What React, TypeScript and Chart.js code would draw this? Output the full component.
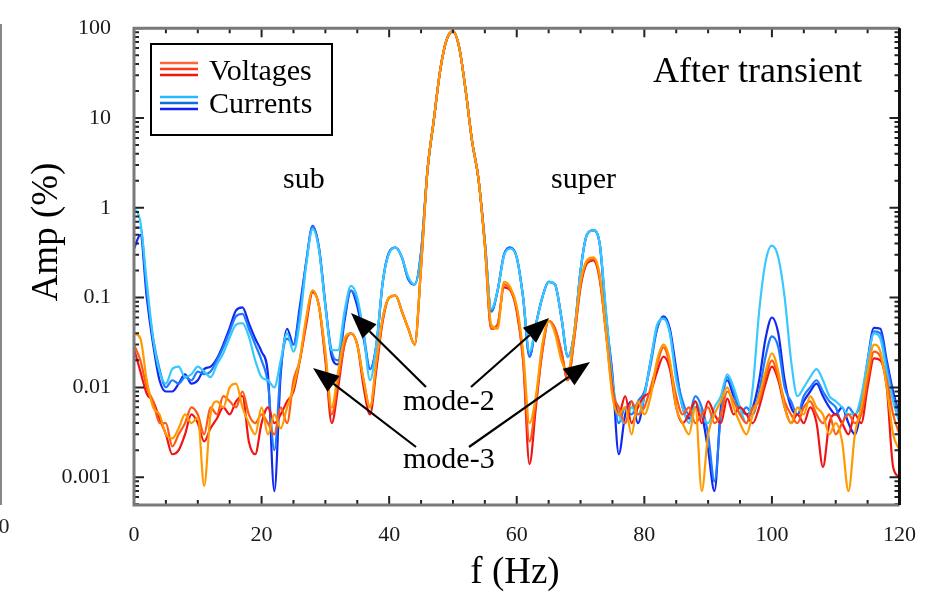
import { useEffect, useRef } from "react";
import { Chart, registerables } from "chart.js";

Chart.register(...registerables);

// ---------- data ----------
const FREQ = [
  0, 1, 2, 3, 4, 5, 6, 7, 8, 9, 10, 11, 12, 13, 14, 15, 16, 17, 18, 19,
  20, 21, 22, 23, 24, 25, 26, 27, 28, 29, 30, 31, 32, 33, 34, 35, 36, 37, 38, 39,
  40, 41, 42, 43, 44, 45, 46, 47, 48, 49, 50, 51, 52, 53, 54, 55, 56, 57, 58, 59,
  60, 61, 62, 63, 64, 65, 66, 67, 68, 69, 70, 71, 72, 73, 74, 75, 76, 77, 78, 79,
  80, 81, 82, 83, 84, 85, 86, 87, 88, 89, 90, 91, 92, 93, 94, 95, 96, 97, 98, 99,
  100, 101, 102, 103, 104, 105, 106, 107, 108, 109, 110, 111, 112, 113, 114, 115, 116, 117, 118, 119, 120,
];

const VOLT_A = [
  0.04, 0.035, 0.012, 0.006, 0.005, 0.003, 0.0027, 0.0035, 0.005, 0.004,
  0.0046, 0.0008, 0.005, 0.007, 0.006, 0.01, 0.011, 0.006, 0.004, 0.003,
  0.006, 0.003, 0.005, 0.0035, 0.006, 0.01, 0.021, 0.06, 0.12, 0.08,
  0.025, 0.006, 0.015, 0.035, 0.04, 0.03, 0.012, 0.006, 0.02, 0.06,
  0.1, 0.105, 0.07, 0.045, 0.03, 0.22, 2.6, 9.5, 34, 74,
  92, 60, 20, 5.5, 2.1, 0.38, 0.05, 0.045, 0.15, 0.13,
  0.08, 0.025, 0.004, 0.008, 0.03, 0.055, 0.04, 0.02, 0.015, 0.04,
  0.15, 0.26, 0.28, 0.18, 0.04, 0.008, 0.005, 0.006, 0.003, 0.007,
  0.005, 0.008, 0.02, 0.03, 0.02, 0.006, 0.004, 0.003, 0.006, 0.0007,
  0.003, 0.005, 0.007, 0.01, 0.006, 0.004, 0.003, 0.005, 0.008, 0.015,
  0.024, 0.015, 0.006, 0.004, 0.006, 0.005, 0.008, 0.006, 0.005, 0.003,
  0.004, 0.0025, 0.0007, 0.003, 0.006, 0.015, 0.03, 0.025, 0.01, 0.003, 0.002,
];

const VOLT_B = [
  0.03, 0.02, 0.01, 0.007, 0.004, 0.004, 0.0022, 0.003, 0.004, 0.006,
  0.005, 0.003, 0.006, 0.005, 0.008, 0.007, 0.006, 0.009, 0.005, 0.004,
  0.005, 0.004, 0.003, 0.006, 0.004, 0.012, 0.02, 0.055, 0.12, 0.08,
  0.022, 0.005, 0.012, 0.03, 0.04, 0.03, 0.012, 0.006, 0.018, 0.06,
  0.1, 0.105, 0.07, 0.045, 0.03, 0.22, 2.6, 9.5, 34, 74,
  92, 60, 20, 5.5, 2.1, 0.38, 0.045, 0.05, 0.14, 0.12,
  0.075, 0.02, 0.0025, 0.007, 0.025, 0.055, 0.045, 0.025, 0.012, 0.035,
  0.14, 0.25, 0.27, 0.17, 0.04, 0.009, 0.006, 0.004, 0.007, 0.005,
  0.006, 0.01, 0.018, 0.028, 0.018, 0.008, 0.005, 0.006, 0.004, 0.005,
  0.006, 0.004, 0.005, 0.009, 0.007, 0.005, 0.004, 0.006, 0.007, 0.013,
  0.02, 0.013, 0.007, 0.005, 0.004, 0.006, 0.007, 0.005, 0.004, 0.005,
  0.003, 0.004, 0.005, 0.004, 0.005, 0.012, 0.025, 0.022, 0.012, 0.005, 0.003,
];

const VOLT_C = [
  0.027, 0.015, 0.0085, 0.007, 0.0045, 0.003, 0.0018, 0.002, 0.003, 0.005,
  0.004, 0.0025, 0.0035, 0.0045, 0.006, 0.005, 0.007, 0.008, 0.0025, 0.0018,
  0.004, 0.006, 0.004, 0.005, 0.007, 0.009, 0.02, 0.05, 0.115, 0.08,
  0.02, 0.004, 0.01, 0.03, 0.04, 0.03, 0.01, 0.005, 0.016, 0.055,
  0.1, 0.105, 0.07, 0.045, 0.03, 0.22, 2.6, 9.5, 34, 74,
  92, 60, 20, 5.5, 2.1, 0.38, 0.045, 0.05, 0.13, 0.12,
  0.07, 0.02, 0.0014, 0.006, 0.025, 0.055, 0.045, 0.025, 0.012, 0.035,
  0.13, 0.24, 0.26, 0.16, 0.04, 0.01, 0.005, 0.008, 0.004, 0.006,
  0.008, 0.009, 0.015, 0.022, 0.016, 0.006, 0.004, 0.005, 0.007, 0.004,
  0.007, 0.005, 0.004, 0.0075, 0.005, 0.006, 0.005, 0.004, 0.006, 0.011,
  0.017, 0.012, 0.006, 0.004, 0.005, 0.004, 0.006, 0.004, 0.0013, 0.004,
  0.005, 0.004, 0.003, 0.005, 0.004, 0.01, 0.021, 0.02, 0.01, 0.0013, 0.001,
];

const CURR_A = [
  1.0, 0.7, 0.15, 0.035, 0.015, 0.011, 0.016, 0.017, 0.013, 0.014,
  0.017, 0.015, 0.013, 0.018, 0.024, 0.036, 0.05, 0.052, 0.037, 0.02,
  0.013, 0.012, 0.01, 0.02, 0.04, 0.025, 0.055, 0.23, 0.58, 0.34,
  0.08, 0.026, 0.026, 0.07, 0.135, 0.1, 0.04, 0.012, 0.03, 0.15,
  0.31, 0.36, 0.28, 0.17, 0.14, 0.3, 2.6, 9.5, 34, 74,
  92, 60, 20, 5.5, 2.1, 0.42, 0.075, 0.12, 0.29, 0.35,
  0.28, 0.1, 0.025, 0.05, 0.1, 0.15, 0.14, 0.06, 0.022, 0.04,
  0.2, 0.5, 0.56, 0.4, 0.07, 0.012, 0.005, 0.004, 0.006, 0.005,
  0.008, 0.02, 0.05, 0.058, 0.04, 0.012, 0.006, 0.004, 0.007, 0.005,
  0.004, 0.006, 0.008, 0.014, 0.01, 0.006, 0.004, 0.01, 0.07, 0.25,
  0.38, 0.28, 0.1, 0.02, 0.008, 0.01, 0.013, 0.016, 0.012, 0.008,
  0.007, 0.006, 0.005, 0.005, 0.008, 0.02, 0.04, 0.035, 0.015, 0.007, 0.004,
];

const CURR_B = [
  0.6, 0.6, 0.12, 0.035, 0.016, 0.01, 0.012, 0.011, 0.013, 0.012,
  0.015, 0.014, 0.015, 0.02, 0.028, 0.042, 0.062, 0.066, 0.045, 0.03,
  0.02, 0.011, 0.002, 0.016, 0.035, 0.03, 0.07, 0.25, 0.62, 0.35,
  0.08, 0.025, 0.02, 0.06, 0.12, 0.09, 0.04, 0.016, 0.03, 0.15,
  0.32, 0.36, 0.28, 0.16, 0.14, 0.32, 2.6, 9.5, 34, 74,
  92, 60, 20, 5.5, 2.1, 0.42, 0.07, 0.12, 0.3, 0.36,
  0.28, 0.1, 0.022, 0.05, 0.1, 0.15, 0.14, 0.06, 0.022, 0.04,
  0.2, 0.5, 0.56, 0.4, 0.065, 0.012, 0.004, 0.006, 0.005, 0.007,
  0.009, 0.018, 0.045, 0.06, 0.042, 0.014, 0.007, 0.005, 0.008, 0.006,
  0.003, 0.0009, 0.005, 0.013, 0.009, 0.005, 0.006, 0.005, 0.009, 0.022,
  0.037, 0.028, 0.01, 0.007, 0.005, 0.008, 0.01, 0.012, 0.009, 0.007,
  0.006, 0.004, 0.006, 0.005, 0.007, 0.018, 0.042, 0.04, 0.018, 0.008, 0.005,
];

const CURR_C = [
  0.35, 0.5, 0.1, 0.03, 0.012, 0.009, 0.009, 0.011, 0.014, 0.011,
  0.012, 0.016, 0.017, 0.021, 0.03, 0.046, 0.072, 0.078, 0.052, 0.035,
  0.025, 0.014, 0.0007, 0.014, 0.045, 0.03, 0.08, 0.25, 0.63, 0.36,
  0.085, 0.022, 0.018, 0.055, 0.12, 0.08, 0.035, 0.016, 0.03, 0.15,
  0.32, 0.36, 0.28, 0.16, 0.14, 0.32, 2.6, 9.5, 34, 74,
  92, 60, 20, 5.5, 2.1, 0.42, 0.07, 0.12, 0.3, 0.36,
  0.28, 0.1, 0.022, 0.05, 0.1, 0.15, 0.14, 0.06, 0.022, 0.04,
  0.2, 0.5, 0.56, 0.4, 0.06, 0.014, 0.0018, 0.005, 0.007, 0.004,
  0.008, 0.02, 0.045, 0.062, 0.045, 0.016, 0.006, 0.0045, 0.006, 0.005,
  0.002, 0.0007, 0.006, 0.012, 0.008, 0.006, 0.005, 0.006, 0.012, 0.035,
  0.06, 0.04, 0.012, 0.006, 0.005, 0.007, 0.009, 0.011, 0.008, 0.006,
  0.005, 0.006, 0.004, 0.003, 0.006, 0.02, 0.046, 0.045, 0.02, 0.009, 0.005,
];

const SERIES_NAMES = ["V-a", "V-b", "V-c", "I-a", "I-b", "I-c"];
const SERIES_VALUES = [VOLT_A, VOLT_B, VOLT_C, CURR_A, CURR_B, CURR_C];
const SERIES_COLORS = ["#FF9A00", "#FF5A14", "#F01414", "#38C8FF", "#1E7CFF", "#1028F0"];

const Y_TICKS = [0.001, 0.01, 0.1, 1, 10, 100];
const Y_TICK_LABELS = ["0.001", "0.01", "0.1", "1", "10", "100"];
const X_TICKS = [0, 20, 40, 60, 80, 100, 120];

const LEGEND_LABELS = ["Voltages", "Currents"];
const LEGEND_COLORS = [
  ["#FF6633", "#FF3A18", "#EE1515"],
  ["#22BBFF", "#0A72D8", "#1122EE"],
];

const SERIF = "'Liberation Serif', 'Times New Roman', serif";

function drawArrow(ctx: CanvasRenderingContext2D, x1: number, y1: number, x2: number, y2: number) {
  const ang = Math.atan2(y2 - y1, x2 - x1);
  const len = 26;
  const hw = 10;
  const bx = x2 - len * Math.cos(ang);
  const by = y2 - len * Math.sin(ang);
  ctx.beginPath();
  ctx.moveTo(x1, y1);
  ctx.lineTo(bx, by);
  ctx.lineWidth = 2.2;
  ctx.strokeStyle = "#000";
  ctx.stroke();
  ctx.beginPath();
  ctx.moveTo(x2, y2);
  ctx.lineTo(bx + hw * Math.sin(ang), by - hw * Math.cos(ang));
  ctx.lineTo(bx - hw * Math.sin(ang), by + hw * Math.cos(ang));
  ctx.closePath();
  ctx.fillStyle = "#000";
  ctx.fill();
}

const decorPlugin = {
  id: "decor",
  afterDatasetsDraw(chart: any) {
    const { ctx, chartArea: a, scales } = chart;
    const xs = scales.x;
    const ys = scales.y;
    ctx.save();

    // inward tick marks
    ctx.strokeStyle = "#222";
    ctx.lineWidth = 2;
    for (let f = 0; f <= 120; f += 5) {
      const px = xs.getPixelForValue(f);
      const l = f % 20 === 0 ? 9 : 5;
      ctx.beginPath();
      ctx.moveTo(px, a.bottom);
      ctx.lineTo(px, a.bottom - l);
      ctx.moveTo(px, a.top);
      ctx.lineTo(px, a.top + l);
      ctx.stroke();
    }
    for (let e = -4; e <= 2; e++) {
      const d = Math.pow(10, e);
      for (let k = 1; k <= 9; k++) {
        const v = k * d;
        if (v < ys.min || v > ys.max) continue;
        const py = ys.getPixelForValue(v);
        const l = k === 1 ? 10 : 5;
        ctx.beginPath();
        ctx.moveTo(a.left, py);
        ctx.lineTo(a.left + l, py);
        ctx.moveTo(a.right, py);
        ctx.lineTo(a.right - l, py);
        ctx.stroke();
      }
    }

    // frame
    ctx.lineWidth = 3;
    ctx.strokeStyle = "#7a7a7a";
    ctx.beginPath();
    ctx.moveTo(a.right, a.top);
    ctx.lineTo(a.left, a.top);
    ctx.lineTo(a.left, a.bottom);
    ctx.lineTo(a.right, a.bottom);
    ctx.stroke();
    ctx.strokeStyle = "#111";
    ctx.beginPath();
    ctx.moveTo(a.right, a.top);
    ctx.lineTo(a.right, a.bottom);
    ctx.stroke();

    // legend box
    ctx.fillStyle = "#fff";
    ctx.fillRect(151, 44, 181, 91);
    ctx.lineWidth = 2;
    ctx.strokeStyle = "#000";
    ctx.strokeRect(151, 44, 181, 91);
    const rowY = [63, 97];
    const baseY = [80, 113];
    ctx.lineWidth = 2.5;
    for (let r = 0; r < 2; r++) {
      for (let j = 0; j < 3; j++) {
        ctx.strokeStyle = LEGEND_COLORS[r][j];
        ctx.beginPath();
        ctx.moveTo(160, rowY[r] + j * 6);
        ctx.lineTo(198, rowY[r] + j * 6);
        ctx.stroke();
      }
    }
    ctx.fillStyle = "#000";
    ctx.font = `30px ${SERIF}`;
    ctx.textAlign = "left";
    ctx.textBaseline = "alphabetic";
    ctx.fillText(LEGEND_LABELS[0], 209, baseY[0]);
    ctx.fillText(LEGEND_LABELS[1], 209, baseY[1]);

    // annotations
    ctx.font = `36px ${SERIF}`;
    ctx.textAlign = "right";
    ctx.fillText("After transient", 862, 82);
    ctx.textAlign = "left";
    ctx.font = `30px ${SERIF}`;
    ctx.fillText("sub", 283, 188);
    ctx.fillText("super", 551, 188);
    ctx.fillText("mode-2", 403, 410);
    ctx.fillText("mode-3", 403, 468);

    drawArrow(ctx, 426, 387, 351, 313);
    drawArrow(ctx, 471, 387, 549, 318);
    drawArrow(ctx, 416, 447, 313, 368);
    drawArrow(ctx, 469, 447, 590, 362);

    // axis titles
    ctx.font = `37px ${SERIF}`;
    ctx.textAlign = "center";
    ctx.fillText("f (Hz)", 515, 583);
    ctx.save();
    ctx.translate(57, 232);
    ctx.rotate(-Math.PI / 2);
    ctx.fillText("Amp (%)", 0, 0);
    ctx.restore();

    // neighbouring panel remnant on the far left
    ctx.strokeStyle = "#888";
    ctx.lineWidth = 2;
    ctx.beginPath();
    ctx.moveTo(1, 24);
    ctx.lineTo(1, 505);
    ctx.stroke();
    ctx.fillStyle = "#222";
    ctx.font = `22px ${SERIF}`;
    ctx.textAlign = "center";
    ctx.textBaseline = "middle";
    ctx.fillText("0", 4, 527);

    ctx.restore();
  },
};

export default function App() {
  const ref = useRef<HTMLCanvasElement | null>(null);

  useEffect(() => {
    const canvas = ref.current;
    if (!canvas) return;
    const tickFont = { family: SERIF, size: 22 };
    const chart = new Chart(canvas, {
      type: "line",
      data: {
        datasets: SERIES_NAMES.map((name, i) => ({
          label: name,
          data: FREQ.map((f, k) => ({ x: f, y: SERIES_VALUES[i][k] })),
          borderColor: SERIES_COLORS[i],
          backgroundColor: SERIES_COLORS[i],
          borderWidth: 2.2,
          pointRadius: 0,
          fill: false,
          cubicInterpolationMode: "monotone" as const,
        })),
      },
      options: {
        responsive: false,
        animation: false,
        devicePixelRatio: 1,
        layout: { padding: { top: 24, right: 24, left: 0, bottom: 0 } },
        plugins: { legend: { display: false }, tooltip: { enabled: false } },
        scales: {
          x: {
            type: "linear",
            min: 0,
            max: 120,
            grid: { display: false },
            border: { display: false },
            ticks: { font: tickFont, color: "#1a1a1a", padding: 9, maxRotation: 0 },
            afterBuildTicks: (s: any) => {
              s.ticks = X_TICKS.map((v) => ({ value: v }));
            },
            afterFit: (s: any) => {
              s.height = 89;
            },
          },
          y: {
            type: "logarithmic",
            min: 0.00049,
            max: 100,
            grid: { display: false },
            border: { display: false },
            ticks: {
              font: tickFont,
              color: "#1a1a1a",
              padding: 15,
              callback: (v: any) => {
                const idx = Y_TICKS.findIndex((t) => Math.abs(t - v) / t < 1e-6);
                return idx >= 0 ? Y_TICK_LABELS[idx] : "";
              },
            },
            afterBuildTicks: (s: any) => {
              s.ticks = Y_TICKS.map((v) => ({ value: v }));
            },
            afterFit: (s: any) => {
              s.width = 134;
            },
          },
        },
      },
      plugins: [decorPlugin],
    });
    return () => chart.destroy();
  }, []);

  return (
    <canvas
      ref={ref}
      width={925}
      height={594}
      style={{ position: "absolute", left: 0, top: 0, width: 925, height: 594, background: "#fff" }}
    />
  );
}
